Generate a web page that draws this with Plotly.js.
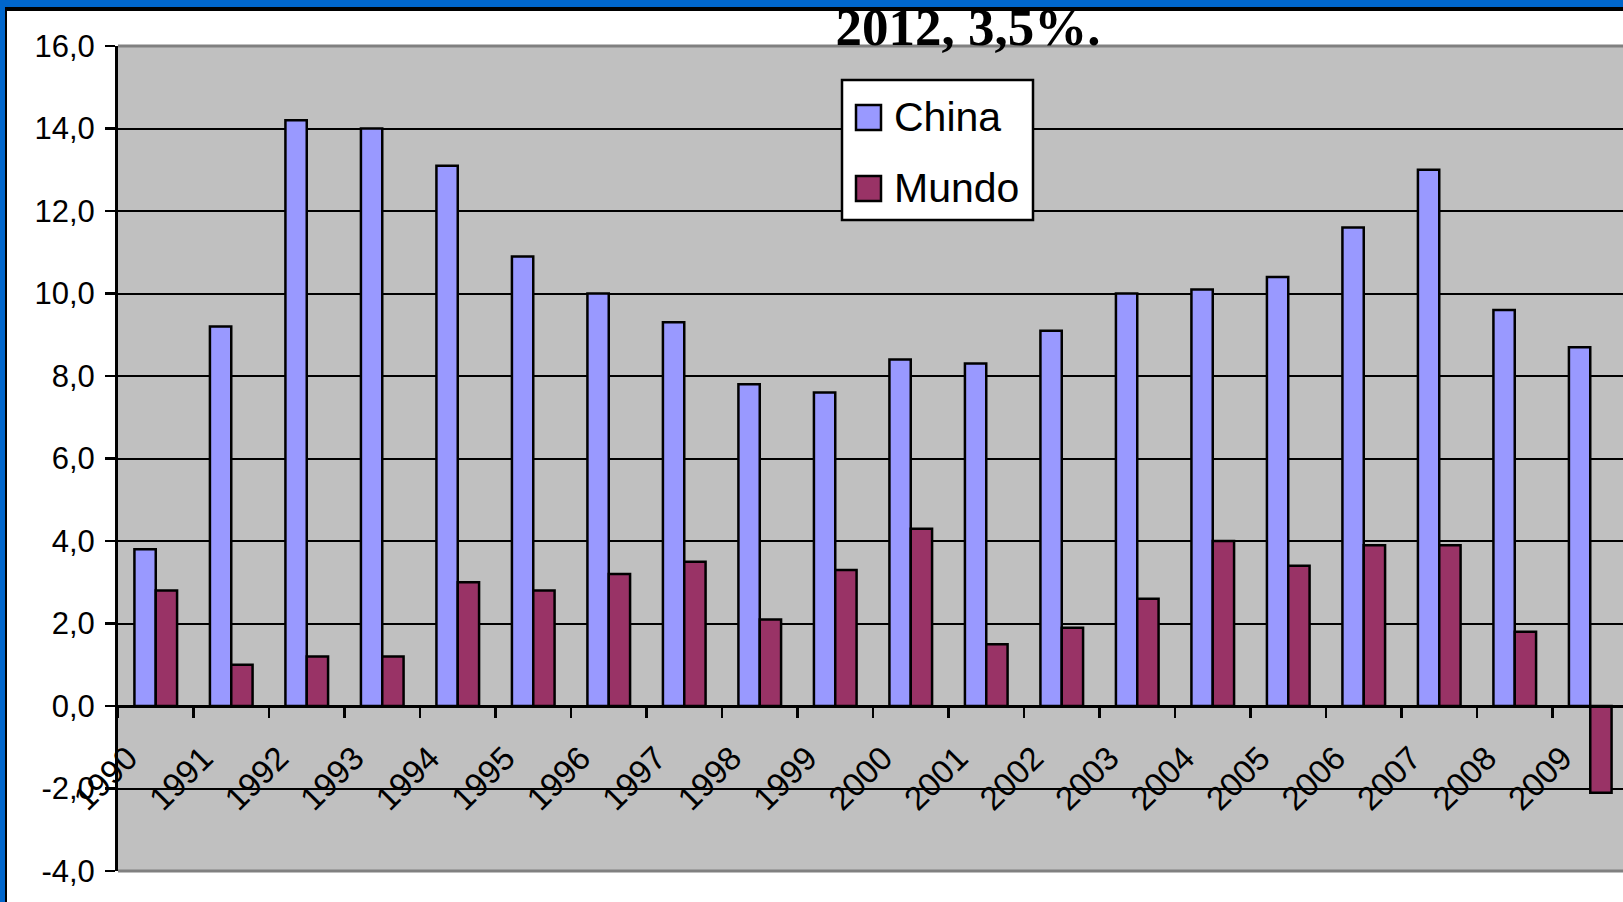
<!DOCTYPE html>
<html>
<head>
<meta charset="utf-8">
<script src="https://cdn.plot.ly/plotly-3.0.1.min.js"></script>
<style>
  html, body { margin: 0; padding: 0; background: #ffffff; }
  #wrap { position: relative; width: 1623px; height: 902px; overflow: hidden; }
  #chart { position: absolute; left: 0; top: 0; width: 1623px; height: 902px; }
  .bd { position: absolute; pointer-events: none; }
</style>
</head>
<body>
<div id="wrap">
  <div id="chart"></div>
  <div class="bd" style="left:0;top:0;width:1623px;height:7px;background:#0066CC;"></div>
  <div class="bd" style="left:5px;top:7px;width:1618px;height:4px;background:#000;"></div>
  <div class="bd" style="left:0;top:0;width:5px;height:902px;background:#0066CC;"></div>
  <div class="bd" style="left:5px;top:7px;width:2px;height:895px;background:#000;"></div>
</div>
<script>
// ---- data ----
const years = ["1990","1991","1992","1993","1994","1995","1996","1997","1998","1999",
               "2000","2001","2002","2003","2004","2005","2006","2007","2008","2009"];
const china = [3.8, 9.2, 14.2, 14.0, 13.1, 10.9, 10.0, 9.3, 7.8, 7.6,
               8.4, 8.3, 9.1, 10.0, 10.1, 10.4, 11.6, 13.0, 9.6, 8.7];
const mundo = [2.8, 1.0, 1.2, 1.2, 3.0, 2.8, 3.2, 3.5, 2.1, 3.3,
               4.3, 1.5, 1.9, 2.6, 4.0, 3.4, 3.9, 3.9, 1.8, -2.1];
const seriesNames = ["China", "Mundo"];
const seriesColors = ["#9999FF", "#993366"];
const yTickVals = [-4, -2, 0, 2, 4, 6, 8, 10, 12, 14, 16];
const yTickText = ["-4,0", "-2,0", "0,0", "2,0", "4,0", "6,0", "8,0", "10,0", "12,0", "14,0", "16,0"];
const titleText = "2012, 3,5%.";

// ---- geometry helpers (pixel -> paper) ----
const W = 1623, H = 902;
const M = {l: 118, r: 0, t: 46, b: 31};
const PW = W - M.l - M.r, PH = H - M.t - M.b;
const px = x => (x - M.l) / PW;
const py = y => (H - M.b - y) / PH;

const traces = [
  {type: "bar", name: seriesNames[0], x: years, y: china,
   marker: {color: seriesColors[0], line: {color: "#000", width: 2.5}},
   showlegend: false, hoverinfo: "x+y"},
  {type: "bar", name: seriesNames[1], x: years, y: mundo,
   marker: {color: seriesColors[1], line: {color: "#000", width: 2.5}},
   showlegend: false, hoverinfo: "x+y"}
];

const xFont = {family: "Liberation Sans, Arial, sans-serif", size: 33, color: "#000"};
const yFont = {family: "Liberation Sans, Arial, sans-serif", size: 31, color: "#000"};
const legendFont = {family: "Liberation Sans, Arial, sans-serif", size: 41, color: "#000"};

const shapes = [
  // plot frame top & bottom (gray)
  {type: "line", xref: "paper", yref: "paper", x0: 0, x1: 1, y0: 1, y1: 1,
   line: {color: "#808080", width: 3}, layer: "above"},
  {type: "line", xref: "paper", yref: "paper", x0: 0, x1: 1, y0: 0, y1: 0,
   line: {color: "#808080", width: 3}, layer: "above"},
  // legend box
  {type: "rect", xref: "paper", yref: "paper", x0: px(842), x1: px(1033), y0: py(220), y1: py(80),
   fillcolor: "#ffffff", line: {color: "#000", width: 2.5}, layer: "above"},
  {type: "rect", xref: "paper", yref: "paper", x0: px(856), x1: px(881), y0: py(130), y1: py(105),
   fillcolor: seriesColors[0], line: {color: "#000", width: 2.5}, layer: "above"},
  {type: "rect", xref: "paper", yref: "paper", x0: px(856), x1: px(881), y0: py(201), y1: py(176),
   fillcolor: seriesColors[1], line: {color: "#000", width: 2.5}, layer: "above"}
];

const annotations = [
  {xref: "paper", yref: "paper", x: px(892), y: py(117), xanchor: "left", yanchor: "middle",
   text: seriesNames[0], showarrow: false, font: legendFont},
  {xref: "paper", yref: "paper", x: px(892), y: py(188), xanchor: "left", yanchor: "middle",
   text: seriesNames[1], showarrow: false, font: legendFont}
];

const layout = {
  width: W, height: H,
  margin: M,
  paper_bgcolor: "#ffffff",
  plot_bgcolor: "#C0C0C0",
  barmode: "group",
  bargap: 0.435,
  bargroupgap: 0,
  showlegend: false,
  title: {
    text: "<b>" + titleText + "</b>",
    font: {family: "Liberation Serif, Times New Roman, serif", size: 53, color: "#000"},
    x: px(968), xanchor: "center", xref: "paper",
    y: 1 - 26 / H, yanchor: "middle", yref: "container"
  },
  xaxis: {
    type: "category",
    range: [-0.5, -0.5 + PW / 75.5],
    anchor: "free", position: 0.2,
    showline: true, linecolor: "#000", linewidth: 2.5,
    ticks: "outside", tickson: "boundaries", ticklen: 10, tickwidth: 2.5, tickcolor: "#000",
    tickangle: -45, tickfont: xFont,
    ticklabelstandoff: 18, ticklabelshift: -28,
    showgrid: false, zeroline: false, fixedrange: true
  },
  yaxis: {
    range: [-4, 16], domain: [0, 1],
    tickmode: "array", tickvals: yTickVals, ticktext: yTickText,
    showline: true, linecolor: "#000", linewidth: 3,
    ticks: "outside", ticklen: 10, tickwidth: 2.5, tickcolor: "#000",
    tickfont: yFont, ticklabelstandoff: 4,
    showgrid: true, gridcolor: "#000", gridwidth: 2,
    zeroline: false, fixedrange: true
  },
  shapes: shapes,
  annotations: annotations
};

Plotly.newPlot("chart", traces, layout, {displayModeBar: false, staticPlot: true});
</script>
</body>
</html>
